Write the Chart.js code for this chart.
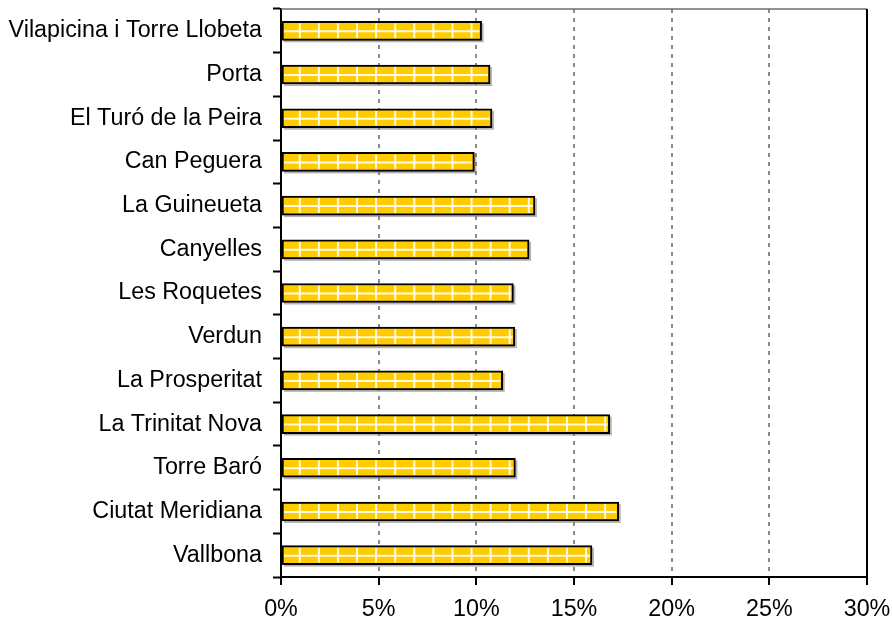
<!DOCTYPE html>
<html>
<head>
<meta charset="utf-8">
<script src="https://cdn.jsdelivr.net/npm/chart.js@4/dist/chart.umd.min.js"></script>
<style>
  html, body { margin: 0; padding: 0; background: #fff; }
  #wrap { width: 892px; height: 623px; position: relative; }
</style>
</head>
<body>
<div id="wrap"><canvas id="c"></canvas></div>
<script>
const categories = [
  "Vilapicina i Torre Llobeta",
  "Porta",
  "El Turó de la Peira",
  "Can Peguera",
  "La Guineueta",
  "Canyelles",
  "Les Roquetes",
  "Verdun",
  "La Prosperitat",
  "La Trinitat Nova",
  "Torre Baró",
  "Ciutat Meridiana",
  "Vallbona"
];
const values = [10.27, 10.70, 10.80, 9.90, 13.00, 12.70, 11.90, 11.97, 11.35, 16.83, 12.00, 17.29, 15.92];
const xTicks = [0, 5, 10, 15, 20, 25, 30];

const FONT = { family: "'Liberation Sans', Arial, sans-serif", size: 23.3 };

const barDecor = {
  id: 'barDecor',
  beforeDatasetsDraw(chart) {
    const ctx = chart.ctx;
    const meta = chart.getDatasetMeta(0);
    ctx.save();
    ctx.fillStyle = 'rgba(120,120,120,0.55)';
    meta.data.forEach(el => {
      const p = el.getProps(['x', 'y', 'base', 'height'], true);
      const left = Math.min(p.base, p.x), right = Math.max(p.base, p.x);
      ctx.fillRect(left + 2, p.y - p.height / 2 + 2, right - left, p.height);
    });
    ctx.restore();
  },
  afterDatasetsDraw(chart) {
    const ctx = chart.ctx;
    const meta = chart.getDatasetMeta(0);
    const xs = chart.scales.x;
    const step = xs.getPixelForValue(1) - xs.getPixelForValue(0);
    ctx.save();
    meta.data.forEach(el => {
      const p = el.getProps(['x', 'y', 'base', 'height'], true);
      const bw = 2;
      const left = p.base + bw, right = p.x - bw;
      const top = p.y - p.height / 2 + bw, bottom = p.y + p.height / 2 - bw;
      ctx.save();
      ctx.beginPath();
      ctx.rect(left, top, right - left, bottom - top);
      ctx.clip();
      ctx.strokeStyle = 'rgba(255,255,255,0.9)';
      ctx.lineWidth = 2;
      ctx.beginPath();
      ctx.moveTo(left, p.y + 0.5);
      ctx.lineTo(right, p.y + 0.5);
      for (let k = 1; ; k++) {
        const x = p.base - 1.3 + k * step * 0.977;
        if (x > right - 1) break;
        ctx.moveTo(x, top);
        ctx.lineTo(x, bottom);
      }
      ctx.stroke();
      ctx.restore();
    });
    ctx.restore();
  },
  afterDraw(chart) {
    const ctx = chart.ctx;
    const a = chart.chartArea;
    ctx.save();
    ctx.strokeStyle = '#6e6e6e';
    ctx.lineWidth = 1.5;
    ctx.beginPath();
    ctx.moveTo(a.left, a.top);
    ctx.lineTo(a.right, a.top);
    ctx.stroke();
    ctx.strokeStyle = '#000';
    ctx.lineWidth = 2;
    ctx.beginPath();
    ctx.moveTo(a.right, a.top);
    ctx.lineTo(a.right, a.bottom);
    ctx.stroke();
    ctx.restore();
  }
};

new Chart(document.getElementById('c'), {
  type: 'bar',
  data: {
    labels: categories,
    datasets: [{
      data: values,
      backgroundColor: '#FFCC00',
      borderColor: '#000',
      borderWidth: 2,
      borderSkipped: false,
      barThickness: 19
    }]
  },
  options: {
    indexAxis: 'y',
    responsive: true,
    maintainAspectRatio: false,
    animation: false,
    layout: { padding: { top: 9, right: 25, left: 0, bottom: 0 } },
    plugins: { legend: { display: false }, tooltip: { enabled: false } },
    scales: {
      x: {
        type: 'linear',
        min: 0, max: 30,
        afterBuildTicks(scale) { scale.ticks = xTicks.map(v => ({ value: v })); },
        afterFit(scale) {
          scale.height = 46;
          scale.paddingLeft = 0; scale.paddingRight = 0;
          scale.paddingTop = 0; scale.paddingBottom = 0;
        },
        ticks: {
          font: FONT, color: '#000', padding: 11, maxRotation: 0,
          callback: v => v + '%'
        },
        grid: {
          color: ctx => (ctx.tick && (ctx.tick.value === 0 || ctx.tick.value === 30)) ? 'rgba(0,0,0,0)' : '#8a8a8a',
          lineWidth: 2,
          tickColor: '#000',
          tickWidth: 2,
          tickLength: 8,
          tickBorderDash: []
        },
        border: { display: true, color: '#000', width: 2, dash: [4, 5] }
      },
      y: {
        afterFit(scale) {
          scale.width = 281;
          scale.paddingLeft = 0; scale.paddingRight = 0;
          scale.paddingTop = 0; scale.paddingBottom = 0;
        },
        ticks: { font: FONT, color: '#000', padding: 11 },
        grid: {
          drawOnChartArea: false,
          offset: true,
          tickColor: '#000',
          tickWidth: 2,
          tickLength: 8
        },
        border: { display: true, color: '#000', width: 2 }
      }
    }
  },
  plugins: [barDecor]
});
</script>
</body>
</html>
